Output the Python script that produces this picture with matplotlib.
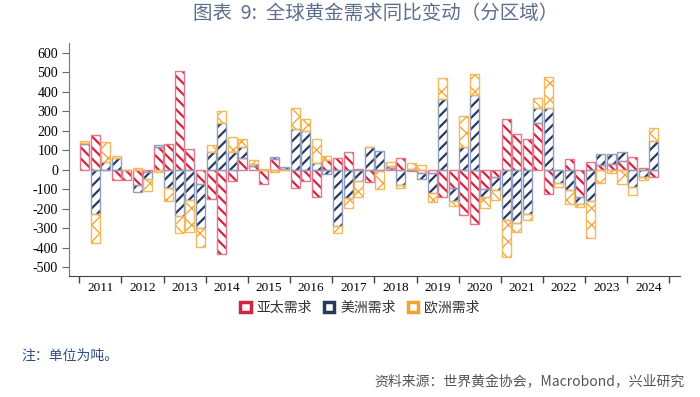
import matplotlib
matplotlib.use("Agg")
import matplotlib.pyplot as plt
from matplotlib.patches import Patch
import numpy as np

plt.rcParams['font.family'] = ['Noto Sans CJK SC', 'DejaVu Sans']
plt.rcParams['axes.unicode_minus'] = False

years = [str(y) for y in range(2011, 2025)]
series_names = ["亚太需求", "美洲需求", "欧洲需求"]

asia = [133, 178, 0, -53, -52, -78, -10, 115, 130, 508, 105, -73, -152, -434, -59, 58,
        19, -75, 53, 4, -96, -58, -142, 50, 58, 89, 3, -65, -5, 10, 59, -6,
        -18, -18, -141, -95, -232, -278, -100, -39, 262, 183, 156, 238, -124, 0, 53, -138,
        42, 24, 29, 46, 64, 7, -40]
americas = [6, -227, 37, 62, 0, -38, -40, 12, -95, -235, -155, -224, 93, 240, 93, 58,
            10, 0, 12, 10, 207, 198, 33, -22, -287, -147, -56, 118, 94, 8, -81, 5,
            -30, -99, 361, -68, 114, 383, -38, -65, -257, -274, -228, 80, 318, -67, -104, -37,
            -160, 55, 50, 45, -87, -36, 149]
europe = [10, -150, 105, 10, 0, 10, -60, -12, -68, -88, -162, -101, 32, 61, 77, 43,
          20, 6, -10, -3, 108, 63, 124, 20, -39, -48, -82, 0, -93, 20, -14, 28,
          24, -49, 108, -23, 159, 106, -57, -51, -193, -46, -32, 48, 159, -20, -74, -17,
          -191, -70, -15, -73, -43, -17, 65]

hatch_colors = ["#d0243f", "#27385c", "#f2a32e"]
edge_colors = ["#e8758a", "#8e9fbf", "#f5b85a"]
hatches = ["\\\\\\", "///", "xx"]
hatch_lw = [1.6, 1.6, 0.9]

fig = plt.figure(figsize=(7.0, 3.97), dpi=100)
ax = fig.add_axes([0.099, 0.3048, 0.8724, 0.5861])

n = len(asia)
x = np.arange(n) + 0.5
pos_bottom = np.zeros(n)
neg_bottom = np.zeros(n)
width = 0.86
for k, vals in enumerate([asia, americas, europe]):
    v = np.array(vals, dtype=float)
    bottom = np.where(v >= 0, pos_bottom, neg_bottom)
    with plt.rc_context({'hatch.linewidth': hatch_lw[k]}):
        bars = ax.bar(x, v, width=width, bottom=bottom, facecolor='white',
                      edgecolor=hatch_colors[k], linewidth=0, hatch=hatches[k], zorder=2)
        for p in bars:
            if hasattr(p, 'set_hatch_linewidth'):
                p.set_hatch_linewidth(hatch_lw[k])
    ax.bar(x, v, width=width, bottom=bottom, fill=False,
           edgecolor=edge_colors[k], linewidth=1.0, zorder=3)
    pos_bottom = pos_bottom + np.where(v >= 0, v, 0)
    neg_bottom = neg_bottom + np.where(v < 0, v, 0)

ax.set_xlim(-0.95, 57.0)
ax.set_ylim(-545, 648)
ax.set_yticks(np.arange(-500, 601, 100))
ax.set_yticklabels([str(t) for t in range(-500, 601, 100)], family='Liberation Serif', fontsize=10)

ax.set_xticks(np.arange(0, 57, 4))
ax.set_xticklabels([])
ax.set_xticks(np.arange(2, 56, 4), minor=True)
ax.set_xticklabels(years, minor=True, family='Liberation Serif', fontsize=9.5)
ax.tick_params(axis='x', which='major', direction='out', length=5, width=1, color='#444444')
ax.tick_params(axis='x', which='minor', length=0, pad=4)
ax.tick_params(axis='y', direction='out', length=5, width=0.8, color='#666666', pad=3)

for s in ['top', 'right']:
    ax.spines[s].set_visible(False)
ax.spines['left'].set_color('#777777')
ax.spines['bottom'].set_color('#444444')

handles = [Patch(facecolor='white', edgecolor=hatch_colors[i], linewidth=2.5) for i in range(3)]
leg = fig.legend(handles, series_names, loc='center', bbox_to_anchor=(0.514, 0.225), ncol=3,
                 frameon=False, fontsize=10, handlelength=0.75, handleheight=0.75,
                 handletextpad=0.4, columnspacing=0.9)
for t in leg.get_texts():
    t.set_color('#333333')

fig.text(0.537, 0.965, "图表  9:  全球黄金需求同比变动（分区域）", ha='center', va='center',
         fontsize=14, color='#5c6f8c', fontweight='medium')
fig.text(0.03, 0.105, "注：单位为吨。", ha='left', va='center', fontsize=10, color='#2f4f80')
fig.text(0.978, 0.036, "资料来源：世界黄金协会，Macrobond，兴业研究", ha='right', va='center',
         fontsize=10, color='#555555')

fig.savefig("out.png", dpi=100)
